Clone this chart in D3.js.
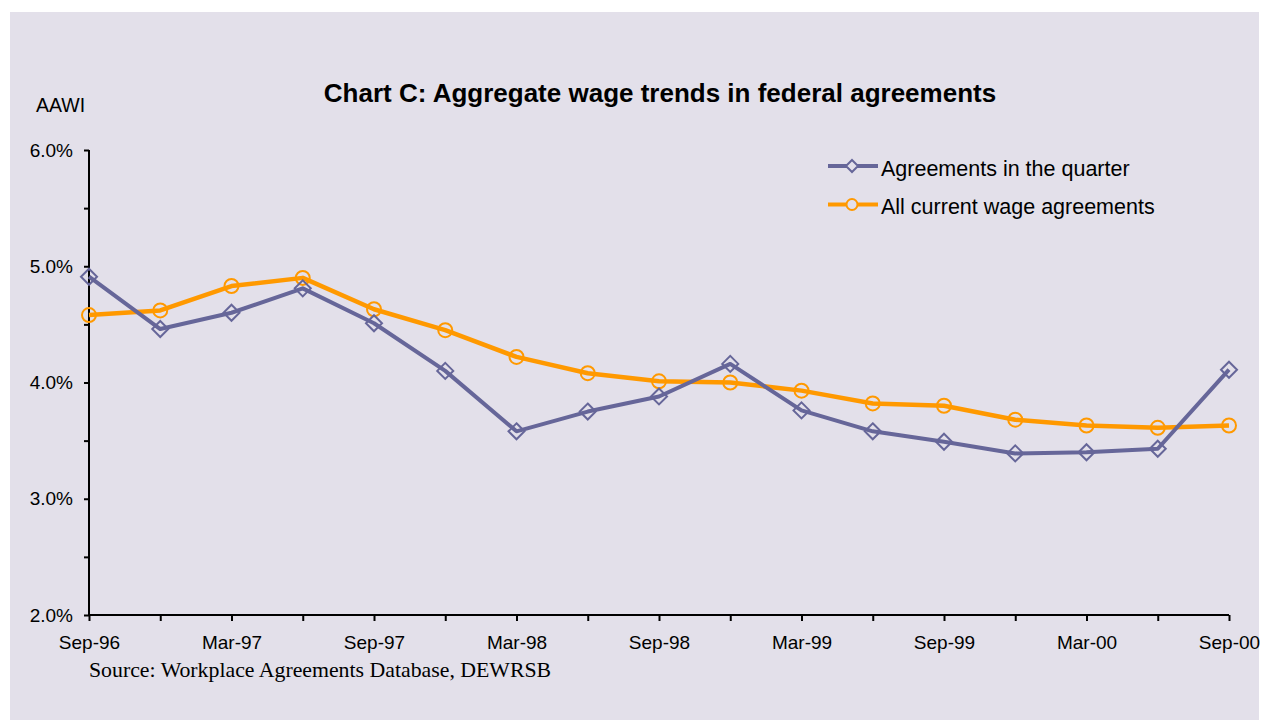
<!DOCTYPE html>
<html>
<head>
<meta charset="utf-8">
<script src="https://cdn.jsdelivr.net/npm/d3@7"></script>
<style>
  html, body { margin: 0; padding: 0; background: #ffffff; }
  svg { display: block; }
</style>
</head>
<body>
<svg id="chart" width="1270" height="720"></svg>
<script>
// Quarterly periods, Sep-96 to Sep-00
const quarters = ["Sep-96","Dec-96","Mar-97","Jun-97","Sep-97","Dec-97","Mar-98","Jun-98",
                  "Sep-98","Dec-98","Mar-99","Jun-99","Sep-99","Dec-99","Mar-00","Jun-00","Sep-00"];
// Average annualised wage increase (%)
const agreementsInQuarter = [4.91,4.46,4.60,4.81,4.51,4.10,3.58,3.75,3.88,4.16,3.76,3.58,3.49,3.39,3.40,3.43,4.11];
const allCurrentAgreements = [4.58,4.62,4.83,4.90,4.63,4.45,4.22,4.08,4.01,4.00,3.93,3.82,3.80,3.68,3.63,3.61,3.63];
const yTicks = [2,2.5,3,3.5,4,4.5,5,5.5,6];
const seriesNames = ["Agreements in the quarter","All current wage agreements"];

const svg = d3.select("#chart");
const font = "Liberation Sans, Arial, sans-serif";
const bg = "#e3e0ea";

svg.append("rect").attr("x",10).attr("y",12).attr("width",1249).attr("height",708).attr("fill",bg);

const x = d3.scalePoint().domain(quarters).range([89,1229]);
const y = d3.scaleLinear().domain([2,6]).range([615,150]);

// Title and axis caption
svg.append("text").attr("x",660).attr("y",102).attr("text-anchor","middle")
  .attr("font-family",font).attr("font-size",26).attr("font-weight","bold").attr("fill","#000")
  .text("Chart C: Aggregate wage trends in federal agreements");
svg.append("text").attr("x",36).attr("y",112).attr("font-family",font).attr("font-size",19.5).attr("fill","#000")
  .text("AAWI");

// Y axis
const yAxis = d3.axisLeft(y).tickValues(yTicks).tickSize(5).tickPadding(11)
  .tickFormat(d => Number.isInteger(d) ? d.toFixed(1) + "%" : "");
const gy = svg.append("g").attr("transform","translate(89,0)").call(yAxis);
gy.select(".domain").attr("stroke","#000").attr("stroke-width",2).attr("d","M0,150V615");
gy.selectAll(".tick line").attr("stroke","#000").attr("stroke-width",2);
gy.selectAll(".tick text").attr("font-family",font).attr("font-size",19).attr("fill","#000");

// X axis
const xAxis = d3.axisBottom(x).tickSize(6).tickPadding(14.5)
  .tickFormat((d,i) => i % 2 === 0 ? d : "");
const gx = svg.append("g").attr("transform","translate(0,615)").call(xAxis);
gx.select(".domain").attr("stroke","#000").attr("stroke-width",2).attr("d","M89,0H1229");
gx.selectAll(".tick line").attr("stroke","#000").attr("stroke-width",2);
gx.selectAll(".tick text").attr("font-family",font).attr("font-size",19).attr("fill","#000");

// Series
const purple = "#666699", orange = "#ff9900";
const line = d3.line().x((d,i) => x(quarters[i])).y(d => y(d));

svg.append("path").datum(allCurrentAgreements).attr("d",line)
  .attr("fill","none").attr("stroke",orange).attr("stroke-width",4.5).attr("stroke-linejoin","round");
svg.append("path").datum(agreementsInQuarter).attr("d",line)
  .attr("fill","none").attr("stroke",purple).attr("stroke-width",4).attr("stroke-linejoin","round");

const diamond = s => `M0,${-s}L${s},0L0,${s}L${-s},0Z`;

svg.append("g").selectAll("circle").data(allCurrentAgreements).join("circle")
  .attr("cx",(d,i) => x(quarters[i])).attr("cy",d => y(d)).attr("r",7)
  .attr("fill","none").attr("stroke",orange).attr("stroke-width",2);
svg.append("g").selectAll("path").data(agreementsInQuarter).join("path")
  .attr("transform",(d,i) => `translate(${x(quarters[i])},${y(d)})`)
  .attr("d",diamond(8)).attr("fill","none").attr("stroke",purple).attr("stroke-width",2);

// Legend
const legend = svg.append("g");
const legendRows = [
  {name: seriesNames[0], color: purple, y: 166, marker: "diamond"},
  {name: seriesNames[1], color: orange, y: 204.5, marker: "circle"}
];
legendRows.forEach(r => {
  legend.append("line").attr("x1",828).attr("x2",878).attr("y1",r.y).attr("y2",r.y)
    .attr("stroke",r.color).attr("stroke-width",4);
  if (r.marker === "diamond") {
    legend.append("path").attr("transform",`translate(852,${r.y})`).attr("d",diamond(6))
      .attr("fill",bg).attr("stroke",r.color).attr("stroke-width",2);
  } else {
    legend.append("circle").attr("cx",852).attr("cy",r.y).attr("r",5.5)
      .attr("fill",bg).attr("stroke",r.color).attr("stroke-width",2);
  }
  legend.append("text").attr("x",881).attr("y",r.y+9.5).attr("font-family",font).attr("font-size",21.5)
    .attr("fill","#000").text(r.name);
});

// Source note
svg.append("text").attr("x",89).attr("y",677).attr("font-family","Liberation Serif, Times New Roman, serif")
  .attr("font-size",21.8).attr("fill","#000").text("Source: Workplace Agreements Database, DEWRSB");
</script>
</body>
</html>
